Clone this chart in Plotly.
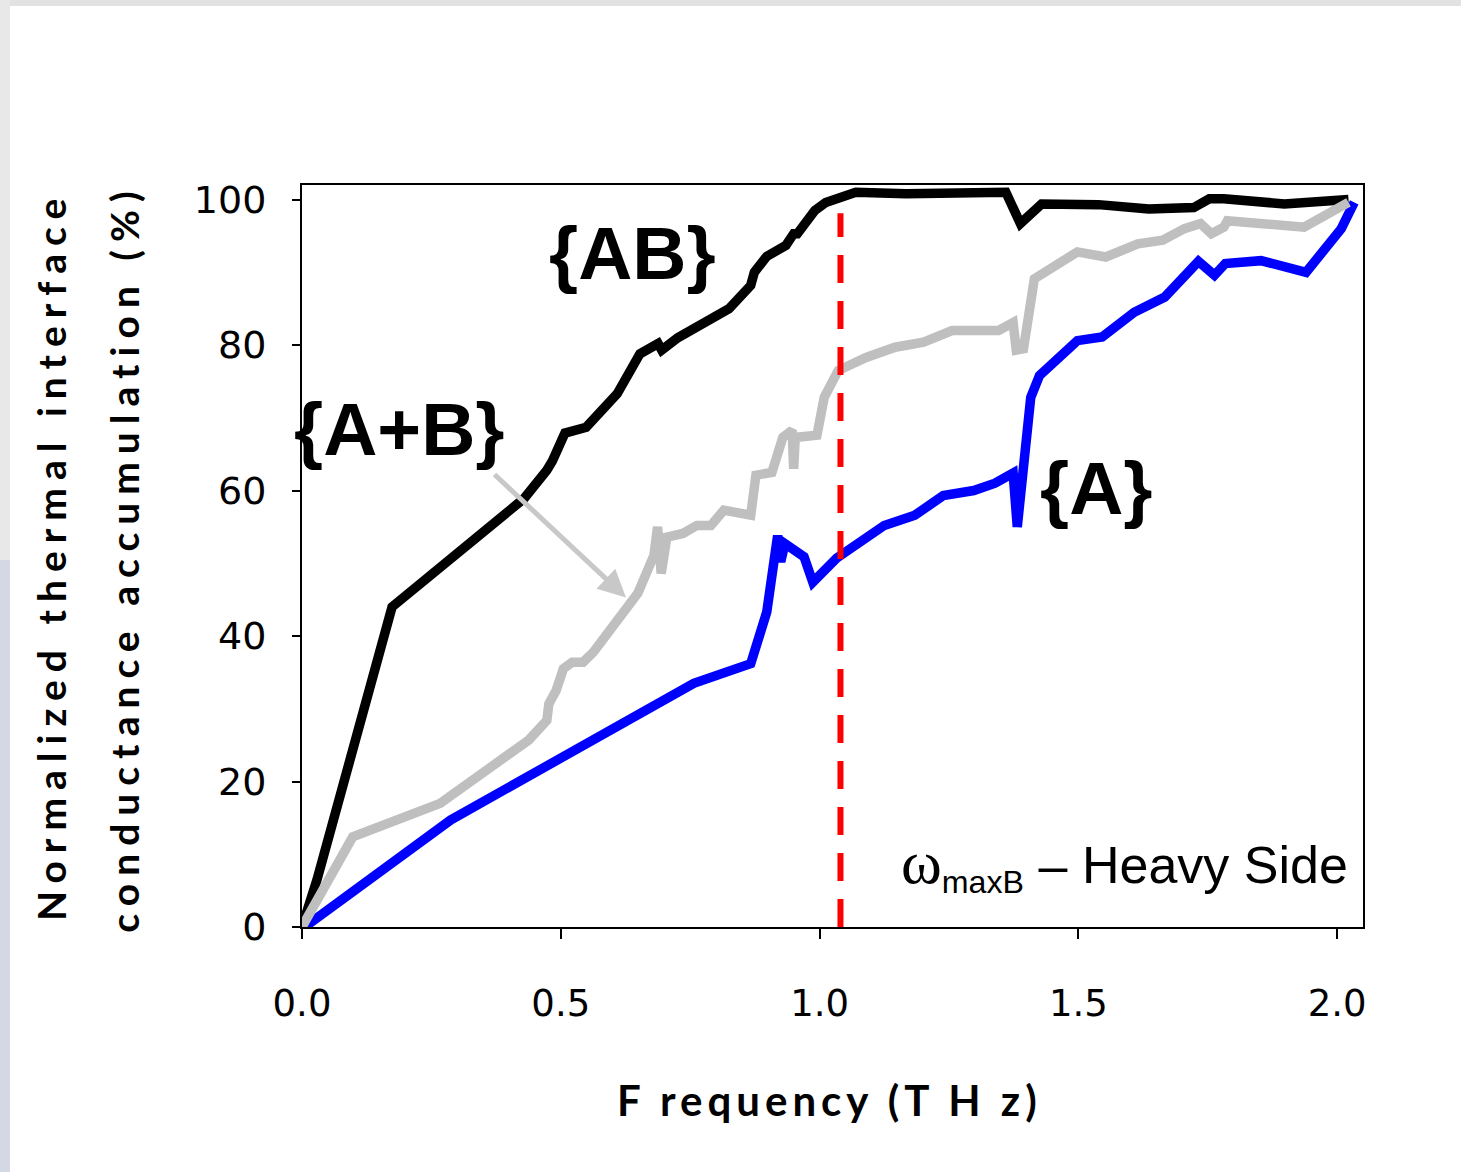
import plotly.graph_objects as go

# {AB} series (black)
ab_x = [0, 0.029, 0.174, 0.429, 0.473, 0.484, 0.508, 0.549, 0.609, 0.653, 0.688, 0.695, 0.726,
        0.825, 0.867, 0.874, 0.898, 0.935, 0.950, 0.957, 0.991, 1.012, 1.070, 1.167, 1.360,
        1.388, 1.429, 1.539, 1.636, 1.723, 1.753, 1.781, 1.898, 1.981, 2.022]
ab_y = [0, 6.5, 44.0, 58.9, 62.8, 64.1, 67.9, 68.7, 73.3, 78.8, 80.2, 79.3, 81.0,
        85.0, 88.2, 90.0, 92.2, 93.7, 95.3, 95.3, 98.5, 99.6, 101.0, 100.8, 101.0,
        96.7, 99.4, 99.3, 98.7, 98.9, 100.1, 100.1, 99.4, 99.6, 100.0]

# {A+B} series (gray)
apb_x = [0, 0.098, 0.267, 0.425, 0.438, 0.473, 0.477, 0.491, 0.505, 0.522, 0.543, 0.563, 0.598,
         0.639, 0.649, 0.680, 0.687, 0.694, 0.705, 0.736, 0.763, 0.790, 0.815, 0.867, 0.877,
         0.908, 0.929, 0.947, 0.950, 0.953, 0.995, 1.009, 1.036, 1.090, 1.146, 1.201, 1.256,
         1.346, 1.374, 1.380, 1.394, 1.415, 1.498, 1.553, 1.615, 1.663, 1.705, 1.736, 1.757,
         1.781, 1.788, 1.936, 2.022]
apb_y = [0, 12.4, 17.0, 25.3, 25.7, 28.4, 30.7, 32.5, 35.5, 36.4, 36.4, 37.8, 41.2,
         45.2, 45.9, 51.1, 55.0, 48.6, 53.6, 54.1, 55.2, 55.2, 57.3, 56.6, 62.1,
         62.5, 67.3, 68.3, 63.0, 67.3, 67.6, 72.8, 76.5, 78.3, 79.7, 80.4, 82.0,
         82.0, 83.1, 79.3, 79.5, 89.1, 92.8, 92.1, 93.9, 94.4, 96.0, 96.7, 95.3,
         96.2, 97.1, 96.2, 99.6]

# {A} series (blue)
a_x = [0.005, 0.287, 0.757, 0.867, 0.898, 0.919, 0.925, 0.933, 0.970, 0.987, 1.033, 1.125,
       1.184, 1.239, 1.298, 1.339, 1.374, 1.382, 1.408, 1.425, 1.498, 1.546, 1.608, 1.667,
       1.732, 1.763, 1.784, 1.853, 1.940, 2.008, 2.033]
a_y = [0, 14.7, 33.5, 36.2, 43.3, 53.8, 50.2, 52.7, 50.9, 47.4, 50.7, 55.2,
       56.6, 59.3, 60.0, 61.0, 62.4, 55.0, 72.8, 75.8, 80.6, 81.1, 84.5, 86.6,
       91.5, 89.6, 91.2, 91.6, 90.0, 96.0, 99.6]

# omega_maxB marker
wmax_x = [1.0404, 1.0404]
wmax_y = [0, 98.1]

x_ticks = [0.0, 0.5, 1.0, 1.5, 2.0]
y_ticks = [0, 20, 40, 60, 80, 100]

fig = go.Figure()
fig.add_trace(go.Scatter(x=ab_x, y=ab_y, mode="lines", line=dict(color="#000000", width=9.5),
                         showlegend=False))
fig.add_trace(go.Scatter(x=a_x, y=a_y, mode="lines", line=dict(color="#0000ff", width=9.5),
                         showlegend=False))
fig.add_trace(go.Scatter(x=apb_x, y=apb_y, mode="lines", line=dict(color="#bfbfbf", width=9.5),
                         showlegend=False))
fig.add_trace(go.Scatter(x=wmax_x, y=wmax_y, mode="lines",
                         line=dict(color="#ff0000", width=6, dash="28px,18px"),
                         showlegend=False))

L, R, T, B = 302, 98, 185, 245
W, H = 1461, 1172
pw, ph = W - L - R, H - T - B


def px(xp):
    return (xp - L) / pw


def py(yp):
    return (H - B - yp) / ph


big = dict(family="Liberation Sans, Arial, sans-serif", size=75, color="black")
title_font = dict(family="Lato, sans-serif", size=39, color="black", weight="bold")

annotations = [
    dict(x=0.638, y=92.6, xref="x", yref="y", text="<b>{AB}</b>", showarrow=False,
         font=big, xanchor="center", yanchor="middle"),
    dict(x=0.188, y=68.4, xref="x", yref="y", text="<b>{A+B}</b>", showarrow=False,
         font=big, xanchor="center", yanchor="middle"),
    dict(x=1.536, y=60.3, xref="x", yref="y", text="<b>{A}</b>", showarrow=False,
         font=big, xanchor="center", yanchor="middle"),
    dict(x=2.025, y=8.6, xref="x", yref="y",
         text="<span style=\"font-family:'Liberation Serif', serif; font-size:62px;\">ω</span>"
              "<sub>maxB</sub>"
              "<span style=\"font-size:52px;\"> – Heavy Side</span>",
         showarrow=False, font=dict(family="Liberation Sans, Arial, sans-serif", size=46,
                                    color="black"),
         xanchor="right", yanchor="middle"),
    # arrow from {A+B} label to gray curve
    dict(x=0.626, y=45.3, ax=0.369, ay=62.4, xref="x", yref="y", axref="x", ayref="y",
         text="", showarrow=True, arrowhead=2, arrowsize=1.1, arrowwidth=5,
         arrowcolor="#c8c8c8"),
    # axis titles
    dict(x=px(51), y=py(556), xref="paper", yref="paper", text="Normalized thermal interface",
         showarrow=False, textangle=-90, font=title_font, xanchor="center", yanchor="middle"),
    dict(x=px(124), y=py(558), xref="paper", yref="paper", text="conductance accumulation (%)",
         showarrow=False, textangle=-90, font=title_font, xanchor="center", yanchor="middle"),
    dict(x=px(829), y=py(1100), xref="paper", yref="paper", text="F requency (T H z)",
         showarrow=False, font=dict(family="Lato, sans-serif", size=42, color="black",
                                    weight="bold"),
         xanchor="center", yanchor="middle"),
]

shapes = [
    dict(type="rect", xref="paper", yref="paper", x0=px(0), x1=px(W), y0=py(6), y1=py(0),
         fillcolor="#e2e2e2", line=dict(width=0), layer="below"),
    dict(type="rect", xref="paper", yref="paper", x0=px(0), x1=px(10), y0=py(560), y1=py(0),
         fillcolor="#e8e8e8", line=dict(width=0), layer="below"),
    dict(type="rect", xref="paper", yref="paper", x0=px(0), x1=px(10), y0=py(H), y1=py(560),
         fillcolor="#d3d8e4", line=dict(width=0), layer="below"),
]

fig.update_layout(
    width=W, height=H, autosize=False,
    margin=dict(l=L, r=R, t=T, b=B),
    paper_bgcolor="white", plot_bgcolor="white",
    showlegend=False,
    annotations=annotations,
    shapes=shapes,
    xaxis=dict(range=[0, 2.05], tickvals=x_ticks, tickformat=".1f", showgrid=False,
               zeroline=False, showline=True, linecolor="black", linewidth=2, mirror=True,
               ticks="outside", ticklen=10, tickwidth=2, tickcolor="black",
               tickfont=dict(family="DejaVu Sans, sans-serif", size=37, color="black"),
               ticklabelstandoff=33),
    yaxis=dict(range=[0, 102], tickvals=y_ticks, showgrid=False, zeroline=False,
               showline=True, linecolor="black", linewidth=2, mirror=True,
               ticks="outside", ticklen=8, tickwidth=2, tickcolor="black",
               tickfont=dict(family="DejaVu Sans, sans-serif", size=38, color="black"),
               ticklabelstandoff=18),
)

post = """
(function(){
  function fix(){
    document.querySelectorAll('g.annotation text').forEach(function(t){
      var s = t.textContent || '';
      if (s.indexOf('Normalized') >= 0 || s.indexOf('conductance') >= 0) { t.style.letterSpacing = '8px'; }
      if (s.indexOf('requency') >= 0) { t.style.letterSpacing = '5px'; }
    });
  }
  fix();
  var gd = document.getElementById('{plot_id}');
  if (gd && gd.on) { gd.on('plotly_afterplot', fix); }
})();
"""

fig.write_html("out.html", post_script=post)
